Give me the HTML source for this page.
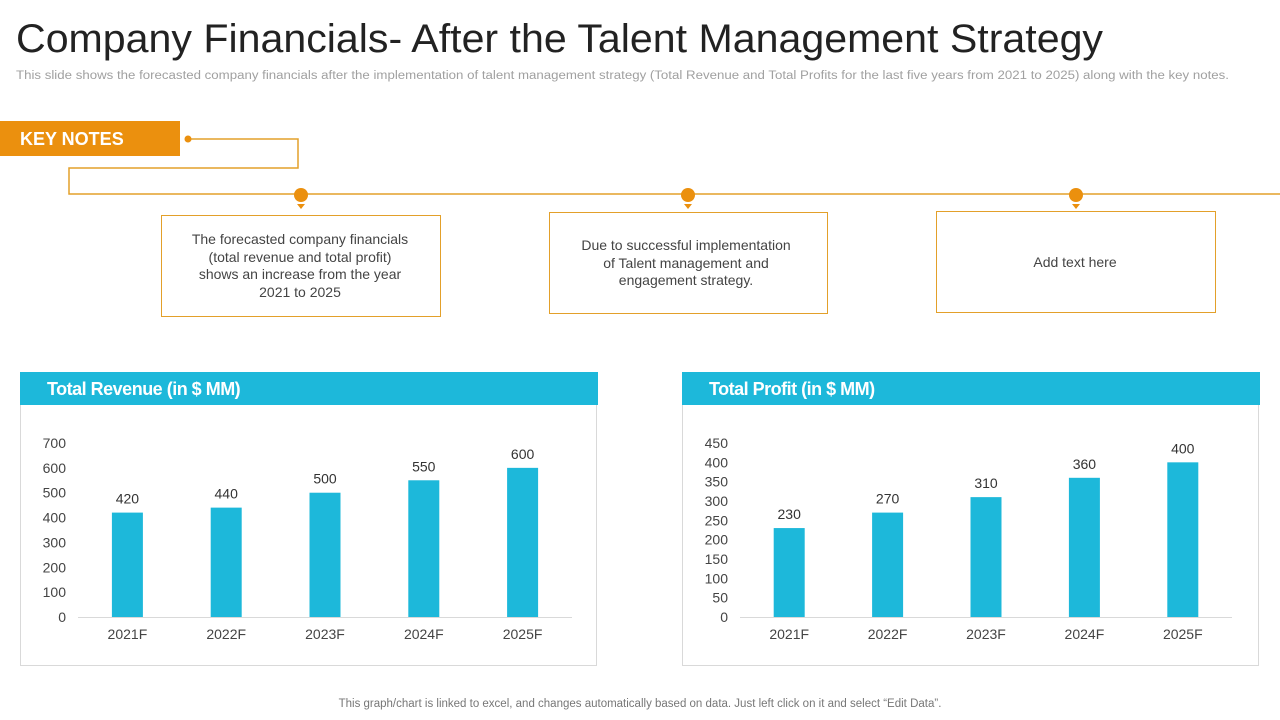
<!DOCTYPE html>
<html><head><meta charset="utf-8"><style>
html,body{margin:0;padding:0;background:#fff;}
svg{display:block;font-family:"Liberation Sans",sans-serif;}
</style></head><body>
<svg width="1280" height="720" viewBox="0 0 1280 720">
<text x="16" y="52" font-size="40" fill="#222" textLength="1087" lengthAdjust="spacingAndGlyphs">Company Financials- After the Talent Management Strategy</text>
<text x="16" y="79" font-size="11.5" fill="#a0a0a0" textLength="1213" lengthAdjust="spacingAndGlyphs">This slide shows the forecasted company financials after the implementation of talent management strategy (Total Revenue and Total Profits for the last five years from 2021 to 2025) along with the key notes.</text>

<g>
<rect x="0" y="121" width="180" height="35" fill="#EB900E"/>
<text x="20" y="145" font-size="18" font-weight="bold" fill="#fff">KEY NOTES</text>
</g>
<g fill="none" stroke="#E3A02A" stroke-width="1.5">
<polyline points="188,139 298,139 298,168 69,168 69,194 1280,194"/>
</g>
<circle cx="188" cy="139" r="3.5" fill="#EB900E"/>
<g fill="#EB900E">
<circle cx="301" cy="195" r="7"/><polygon points="297,204 305,204 301,209"/>
<circle cx="688" cy="195" r="7"/><polygon points="684,204 692,204 688,209"/>
<circle cx="1076" cy="195" r="7"/><polygon points="1072,204 1080,204 1076,209"/>
</g>
<g>
<rect x="161.5" y="215.5" width="279" height="101" fill="#fff" stroke="#E3A02A"/>
<g font-size="14" fill="#444" text-anchor="middle"><text x="300" y="244">The forecasted company financials</text><text x="300" y="262">(total revenue and total profit)</text><text x="300" y="279">shows an increase from the year</text><text x="300" y="297">2021 to 2025</text></g>
</g>
<g>
<rect x="549.5" y="212.5" width="278" height="101" fill="#fff" stroke="#E3A02A"/>
<g font-size="14" fill="#444" text-anchor="middle"><text x="686" y="250">Due to successful implementation</text><text x="686" y="268">of Talent management and</text><text x="686" y="285">engagement strategy.</text></g>
</g>
<g>
<rect x="936.5" y="211.5" width="279" height="101" fill="#fff" stroke="#E3A02A"/>
<text x="1075" y="267" font-size="14" fill="#444" text-anchor="middle">Add text here</text>
</g>

<g>
<rect x="20.5" y="372.5" width="576" height="293" fill="#fff" stroke="#d9d9d9"/>
<rect x="20" y="372" width="578" height="33" fill="#1DB8DA"/>
<text x="47" y="395" font-size="18" font-weight="bold" fill="#fff" letter-spacing="-0.5">Total Revenue (in $ MM)</text>
<g id="rev"></g>
</g>
<g>
<rect x="682.5" y="372.5" width="576" height="293" fill="#fff" stroke="#d9d9d9"/>
<rect x="682" y="372" width="578" height="33" fill="#1DB8DA"/>
<text x="709" y="395" font-size="18" font-weight="bold" fill="#fff" letter-spacing="-0.5">Total Profit (in $ MM)</text>
<g id="prof"></g>
</g>
<text x="640" y="707" font-size="11.5" fill="#777" text-anchor="middle">This graph/chart is linked to excel, and changes automatically based on data. Just left click on it and select “Edit Data”.</text>
</svg>
<script>
const categories = ["2021F","2022F","2023F","2024F","2025F"];
const revenueValues = [420,440,500,550,600];
const revenueTicks = [0,100,200,300,400,500,600,700];
const profitValues = [230,270,310,360,400];
const profitTicks = [0,50,100,150,200,250,300,350,400,450];
const NS = "http://www.w3.org/2000/svg";
function mk(tag, attrs, parent){const e=document.createElementNS(NS,tag);for(const k in attrs)e.setAttribute(k,attrs[k]);parent.appendChild(e);return e;}
function drawChart(g, values, ticks, x0, x1, name){
  const yBot=617, yTop=443, max=ticks[ticks.length-1];
  const y=v=>yBot-(v/max)*(yBot-yTop);
  const band=(x1-x0)/categories.length;
  const x=i=>x0+band*(i+0.5);
  const ax=mk('line',{x1:x0,x2:x1,y1:yBot+0.5,y2:yBot+0.5,stroke:'#d9d9d9'},g);
  
  
  ticks.forEach(t=>{
    const tx=mk('text',{x:x0-12,y:y(t)+5,'font-size':14,fill:'#444','text-anchor':'end'},g);
    tx.textContent=t;
    
    
  });
  values.forEach((v,i)=>{
    const b=mk('rect',{x:x(i)-15.5,y:y(v),width:31,height:yBot-y(v),fill:'#1DB8DA'},g);
    
    
    const l=mk('text',{x:x(i),y:y(v)-9,'font-size':14,fill:'#333','text-anchor':'middle'},g);
    l.textContent=v;
    
    
    const c=mk('text',{x:x(i),y:639,'font-size':14,fill:'#444','text-anchor':'middle'},g);
    c.textContent=categories[i];
    
    
  });
}
drawChart(document.getElementById('rev'), revenueValues, revenueTicks, 78, 572, 'revenue');
drawChart(document.getElementById('prof'), profitValues, profitTicks, 740, 1232, 'profit');
</script>
</body></html>
